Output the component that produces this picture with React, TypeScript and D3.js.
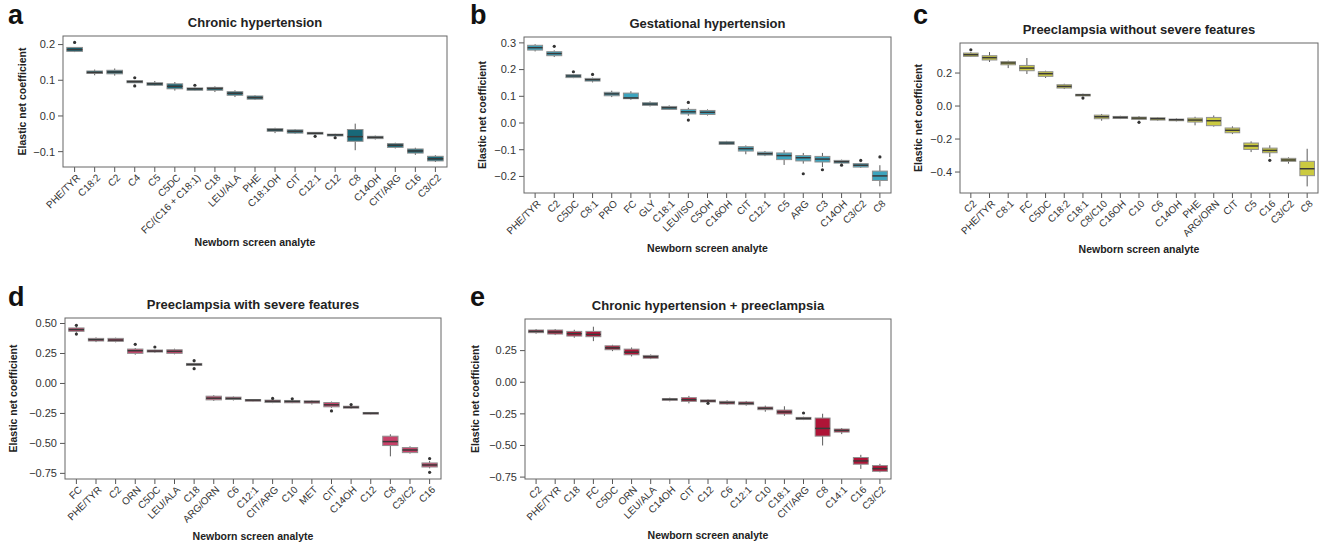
import * as d3 from "d3";

// box stats per analyte: [whisker low, q1, median, q3, whisker high]
const chronicCats = ["PHE/TYR", "C18:2", "C2", "C4", "C5", "C5DC", "FC/(C16 + C18:1)", "C18", "LEU/ALA", "PHE", "C18:1OH", "CIT", "C12:1", "C12", "C8", "C14OH", "CIT/ARG", "C16", "C3/C2"];
const chronicBoxes = [
  [0.179, 0.181, 0.186, 0.192, 0.193], [0.114, 0.119, 0.122, 0.126, 0.13], [0.113, 0.118, 0.123, 0.128, 0.133],
  [0.092, 0.093, 0.096, 0.099, 0.1], [0.084, 0.086, 0.09, 0.093, 0.098], [0.071, 0.076, 0.083, 0.09, 0.095],
  [0.071, 0.072, 0.076, 0.0785, 0.08], [0.067, 0.072, 0.077, 0.08, 0.083], [0.053, 0.058, 0.0635, 0.068, 0.072],
  [0.045, 0.047, 0.0515, 0.056, 0.058], [-0.048, -0.043, -0.039, -0.0355, -0.033], [-0.05, -0.048, -0.043, -0.039, -0.037],
  [-0.053, -0.051, -0.0485, -0.046, -0.045], [-0.059, -0.056, -0.053, -0.051, -0.05], [-0.096, -0.071, -0.058, -0.038, -0.0215],
  [-0.066, -0.0635, -0.06, -0.057, -0.055], [-0.091, -0.088, -0.082, -0.0775, -0.075], [-0.109, -0.104, -0.098, -0.0925, -0.089],
  [-0.129, -0.126, -0.12, -0.113, -0.11],
];
const chronicOutliers = [["PHE/TYR", 0.206], ["C4", 0.107], ["C4", 0.084], ["FC/(C16 + C18:1)", 0.086], ["C12:1", -0.057], ["C12", -0.061]];

const gestCats = ["PHE/TYR", "C2", "C5DC", "C8:1", "PRO", "FC", "GLY", "C18:1", "LEU/ISO", "C5OH", "C16OH", "CIT", "C12:1", "C5", "ARG", "C3", "C14OH", "C3/C2", "C8"];
const gestBoxes = [
  [0.268, 0.273, 0.282, 0.291, 0.295], [0.247, 0.252, 0.26, 0.267, 0.272], [0.168, 0.17, 0.176, 0.181, 0.183],
  [0.152, 0.157, 0.162, 0.167, 0.17], [0.097, 0.102, 0.109, 0.115, 0.121], [0.087, 0.091, 0.094, 0.112, 0.119],
  [0.062, 0.066, 0.071, 0.076, 0.081], [0.049, 0.051, 0.057, 0.062, 0.066], [0.027, 0.034, 0.042, 0.051, 0.057],
  [0.028, 0.032, 0.04, 0.047, 0.051], [-0.082, -0.08, -0.075, -0.07, -0.067], [-0.117, -0.105, -0.096, -0.0886, -0.084],
  [-0.124, -0.12, -0.115, -0.109, -0.105], [-0.157, -0.137, -0.122, -0.112, -0.102], [-0.152, -0.142, -0.13, -0.122, -0.112],
  [-0.165, -0.146, -0.135, -0.125, -0.112], [-0.152, -0.15, -0.145, -0.14, -0.137], [-0.168, -0.165, -0.158, -0.152, -0.149],
  [-0.237, -0.215, -0.198, -0.18, -0.158],
];
const gestOutliers = [["C2", 0.287], ["C5DC", 0.192], ["C8:1", 0.182], ["LEU/ISO", 0.077], ["LEU/ISO", 0.011], ["ARG", -0.19], ["C3", -0.175], ["C14OH", -0.158], ["C3/C2", -0.14], ["C8", -0.127]];

const peCats = ["C2", "PHE/TYR", "C8:1", "FC", "C5DC", "C18:2", "C18:1", "C8/C10", "C16OH", "C10", "C6", "C14OH", "PHE", "ARG/ORN", "CIT", "C5", "C16", "C3/C2", "C8"];
const peBoxes = [
  [0.297, 0.301, 0.311, 0.321, 0.327], [0.267, 0.279, 0.293, 0.305, 0.327], [0.23, 0.25, 0.261, 0.269, 0.275],
  [0.194, 0.214, 0.23, 0.246, 0.291], [0.17, 0.18, 0.196, 0.208, 0.214], [0.103, 0.109, 0.119, 0.129, 0.135],
  [0.058, 0.061, 0.067, 0.071, 0.075], [-0.089, -0.077, -0.065, -0.055, -0.048], [-0.079, -0.075, -0.069, -0.063, -0.059],
  [-0.087, -0.081, -0.073, -0.067, -0.061], [-0.089, -0.085, -0.077, -0.071, -0.067], [-0.093, -0.089, -0.083, -0.079, -0.075],
  [-0.117, -0.097, -0.085, -0.073, -0.065], [-0.125, -0.119, -0.089, -0.069, -0.057], [-0.17, -0.162, -0.147, -0.133, -0.123],
  [-0.279, -0.263, -0.242, -0.224, -0.214], [-0.309, -0.283, -0.269, -0.255, -0.238], [-0.349, -0.335, -0.327, -0.317, -0.311],
  [-0.487, -0.422, -0.38, -0.335, -0.259],
];
const peOutliers = [["C2", 0.341], ["C18:1", 0.048], ["C10", -0.099], ["C16", -0.329]];

const sevCats = ["FC", "PHE/TYR", "C2", "ORN", "C5DC", "LEU/ALA", "C18", "ARG/ORN", "C6", "C12:1", "CIT/ARG", "C10", "MET", "CIT", "C14OH", "C12", "C8", "C3/C2", "C16"];
const sevBoxes = [
  [0.424, 0.435, 0.449, 0.463, 0.474], [0.345, 0.354, 0.365, 0.376, 0.384], [0.343, 0.351, 0.362, 0.376, 0.382],
  [0.24, 0.251, 0.273, 0.287, 0.295], [0.256, 0.262, 0.27, 0.279, 0.282], [0.243, 0.251, 0.268, 0.281, 0.29],
  [0.145, 0.15, 0.159, 0.167, 0.173], [-0.145, -0.137, -0.123, -0.106, -0.098], [-0.142, -0.134, -0.125, -0.114, -0.109],
  [-0.151, -0.148, -0.139, -0.134, -0.131], [-0.164, -0.159, -0.148, -0.139, -0.134], [-0.164, -0.161, -0.15, -0.142, -0.137],
  [-0.176, -0.164, -0.153, -0.145, -0.139], [-0.203, -0.195, -0.178, -0.159, -0.151], [-0.212, -0.206, -0.198, -0.19, -0.185],
  [-0.259, -0.256, -0.248, -0.242, -0.239], [-0.608, -0.518, -0.485, -0.44, -0.424], [-0.585, -0.577, -0.555, -0.535, -0.524],
  [-0.708, -0.697, -0.68, -0.663, -0.647],
];
const sevOutliers = [["FC", 0.485], ["FC", 0.412], ["ORN", 0.326], ["C5DC", 0.304], ["C18", 0.19], ["C18", 0.123], ["CIT/ARG", -0.125], ["C10", -0.128], ["CIT", -0.229], ["C14OH", -0.176], ["C16", -0.627], ["C16", -0.741]];

const chpeCats = ["C2", "PHE/TYR", "C18", "FC", "C5DC", "ORN", "LEU/ALA", "C14OH", "CIT", "C12", "C6", "C12:1", "C10", "C18:1", "CIT/ARG", "C8", "C14:1", "C16", "C3/C2"];
const chpeBoxes = [
  [0.384, 0.392, 0.402, 0.413, 0.421], [0.373, 0.381, 0.397, 0.413, 0.421], [0.352, 0.365, 0.384, 0.402, 0.415],
  [0.325, 0.36, 0.378, 0.402, 0.439], [0.246, 0.257, 0.272, 0.288, 0.296], [0.204, 0.217, 0.238, 0.262, 0.275],
  [0.183, 0.19, 0.201, 0.212, 0.22], [-0.151, -0.143, -0.135, -0.13, -0.122], [-0.167, -0.151, -0.138, -0.122, -0.108],
  [-0.161, -0.156, -0.148, -0.14, -0.135], [-0.177, -0.172, -0.161, -0.151, -0.143], [-0.185, -0.177, -0.167, -0.156, -0.148],
  [-0.233, -0.217, -0.206, -0.196, -0.185], [-0.265, -0.251, -0.235, -0.22, -0.19], [-0.299, -0.294, -0.286, -0.278, -0.273],
  [-0.5, -0.426, -0.365, -0.283, -0.249], [-0.41, -0.394, -0.381, -0.37, -0.362], [-0.685, -0.648, -0.622, -0.595, -0.574],
  [-0.712, -0.704, -0.683, -0.659, -0.645],
];
const chpeOutliers = [["C12", -0.167], ["CIT/ARG", -0.243]];

const panels = [
  { letter: "a", title: "Chronic hypertension", cats: chronicCats, boxes: chronicBoxes, outliers: chronicOutliers, color: "#186878",
    l: 63, r: 447, t: 36, b: 167, dom: [-0.143, 0.224], ticks: [-0.1, 0, 0.1, 0.2], fmt: ".1f", lx: 8, ly: 24, xt: 246, yl: 22 },
  { letter: "b", title: "Gestational hypertension", cats: gestCats, boxes: gestBoxes, outliers: gestOutliers, color: "#3ca4be",
    l: 524, r: 891, t: 37, b: 193, dom: [-0.262, 0.322], ticks: [-0.2, -0.1, 0, 0.1, 0.2, 0.3], fmt: ".1f", lx: 470, ly: 24, xt: 252, yl: 482 },
  { letter: "c", title: "Preeclampsia without severe features", cats: peCats, boxes: peBoxes, outliers: peOutliers, color: "#cbca40",
    l: 960, r: 1318, t: 43, b: 193, dom: [-0.527, 0.382], ticks: [-0.4, -0.2, 0, 0.2], fmt: ".1f", lx: 913, ly: 24, xt: 253, yl: 918 },
  { letter: "d", title: "Preeclampsia with severe features", cats: sevCats, boxes: sevBoxes, outliers: sevOutliers, color: "#c84169",
    l: 65, r: 441, t: 318, b: 479, dom: [-0.797, 0.546], ticks: [-0.75, -0.5, -0.25, 0, 0.25, 0.5], fmt: ".2f", lx: 8, ly: 306, xt: 540, yl: 13 },
  { letter: "e", title: "Chronic hypertension + preeclampsia", cats: chpeCats, boxes: chpeBoxes, outliers: chpeOutliers, color: "#af1437",
    l: 525, r: 891, t: 319, b: 479, dom: [-0.765, 0.5], ticks: [-0.75, -0.5, -0.25, 0, 0.25], fmt: ".2f", lx: 470, ly: 306, xt: 539, yl: 475 },
];

const font = "'Liberation Sans', Arial, Helvetica, sans-serif";

function Panel({ p }) {
  const x = d3.scalePoint().domain(p.cats).range([p.l, p.r]).padding(0.58);
  const y = d3.scaleLinear().domain(p.dom).range([p.b, p.t]);
  const bw = x.step() * 0.78;
  const fmt = d3.format(p.fmt);
  const cx = (p.l + p.r) / 2;

  return (
    <g fontFamily={font}>
      <text x={p.lx} y={p.ly} fontSize={27} fontWeight="bold" fill="#111">{p.letter}</text>
      <text x={cx} y={p.t - 9.5} fontSize={13} fontWeight="bold" textAnchor="middle" fill="#222">{p.title}</text>

      {p.ticks.map((t) => (
        <g key={t}>
          <line x1={p.l - 5} x2={p.l} y1={y(t)} y2={y(t)} stroke="#555" />
          <text x={p.l - 8} y={y(t)} dy="0.35em" fontSize={11} textAnchor="end" fill="#333">
            {fmt(t).replace("-", "\u2212")}
          </text>
        </g>
      ))}

      {p.cats.map((c) => (
        <g key={c}>
          <line x1={x(c)} x2={x(c)} y1={p.b} y2={p.b + 5} stroke="#555" />
          <text transform={`translate(${x(c) + 1},${p.b + 6}) rotate(-45)`} dy="0.75em" fontSize={10} textAnchor="end" fill="#333">
            {c}
          </text>
        </g>
      ))}

      {p.boxes.map(([lo, q1, med, q3, hi], i) => {
        const c = x(p.cats[i]);
        return (
          <g key={i}>
            <line x1={c} x2={c} y1={y(hi)} y2={y(q3)} stroke="#5a5a5a" />
            <line x1={c} x2={c} y1={y(q1)} y2={y(lo)} stroke="#5a5a5a" />
            <rect x={c - bw / 2} y={y(q3)} width={bw} height={Math.max(1, y(q1) - y(q3))} fill={p.color} stroke="#8f8f8f" strokeWidth={1} />
            <line x1={c - bw / 2} x2={c + bw / 2} y1={y(med)} y2={y(med)} stroke="#3a3a3a" strokeWidth={1.5} />
          </g>
        );
      })}

      {p.outliers.map(([c, v], i) => (
        <circle key={i} cx={x(c)} cy={y(v)} r={1.6} fill="#333" />
      ))}

      <rect x={p.l} y={p.t} width={p.r - p.l} height={p.b - p.t} fill="none" stroke="#666" strokeWidth={1} />

      <text x={cx} y={p.xt} fontSize={10.5} fontWeight="bold" textAnchor="middle" fill="#222">Newborn screen analyte</text>
      <text transform={`translate(${p.yl},${(p.t + p.b) / 2}) rotate(-90)`} dy="0.35em" fontSize={10.5} fontWeight="bold" textAnchor="middle" fill="#222">
        Elastic net coefficient
      </text>
    </g>
  );
}

export default function App() {
  return (
    <svg width={1322} height={545} style={{ position: "absolute", left: 0, top: 0, background: "#fff" }}>
      {panels.map((p) => (
        <Panel key={p.letter} p={p} />
      ))}
    </svg>
  );
}
